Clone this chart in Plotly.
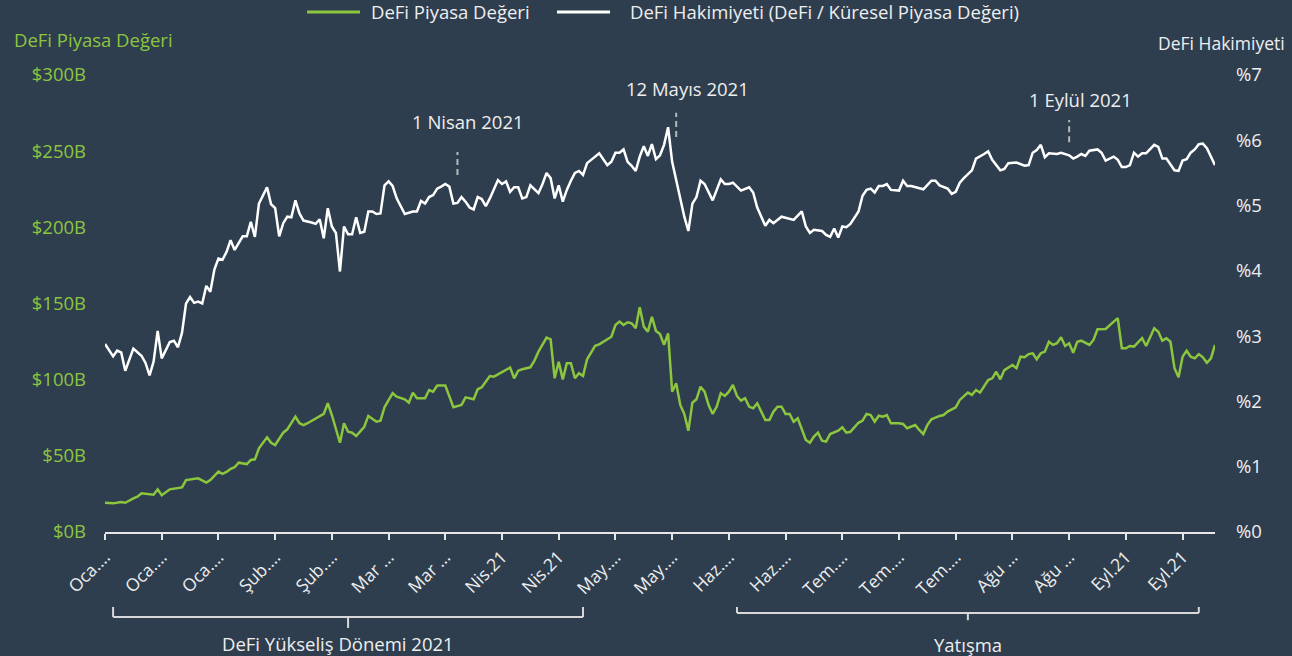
import pandas as pd
import plotly.graph_objects as go

# ---------------- data ----------------
start_date = "2021-01-01"

# DeFi market value ($B): day offsets from 2021-01-01 and values
tvl_days = [
    0, 2, 4, 5, 7, 8, 9, 12, 13, 14,
    16, 19, 20, 23, 25, 26, 28, 29, 30, 31,
    32, 33, 35, 36, 37, 38, 40, 41, 42, 44,
    45, 47, 48, 49, 50, 52, 54, 55, 56, 58,
    59, 60, 61, 62, 64, 65, 67, 68, 69, 71,
    72, 74, 75, 76, 77, 79, 80, 81, 82, 84,
    86, 88, 89, 91, 92, 93, 95, 96, 98, 100,
    101, 102, 103, 105, 106, 107, 109, 110, 111, 112,
    113, 114, 115, 116, 117, 118, 119, 121, 122, 124,
    125, 126, 127, 128, 129, 130, 131, 132, 133, 134,
    135, 136, 137, 138, 139, 140, 141, 142, 143, 144,
    145, 146, 147, 148, 149, 150, 151, 152, 153, 154,
    155, 156, 157, 158, 159, 160, 161, 162, 163, 164,
    165, 166, 167, 168, 169, 170, 171, 173, 174, 175,
    176, 177, 178, 179, 181, 182, 183, 184, 186, 187,
    188, 189, 190, 191, 192, 193, 194, 196, 197, 198,
    200, 201, 202, 203, 204, 206, 207, 208, 210, 211,
    213, 214, 215, 216, 217, 218, 219, 220, 221, 222,
    224, 225, 226, 227, 228, 229, 230, 231, 232, 233,
    234, 235, 236, 237, 238, 239, 240, 241, 243, 244,
    245, 247, 249, 250, 251, 252, 253, 254, 256, 257,
    259, 260, 261, 262, 263, 264, 265, 266, 267, 268,
    269, 270, 271, 272, 273, 274,
]
tvl_values = [
    19.2, 18.8, 19.7, 19.2, 22.1, 23.2, 25.4, 24.5, 28.0, 24.1,
    28.0, 29.3, 34.1, 35.2, 32.4, 34.1, 39.6, 38.1, 39.4, 41.4,
    42.5, 45.5, 44.6, 47.3, 47.7, 54.9, 62.2, 58.6, 57.1, 65.2,
    67.4, 75.7, 71.4, 70.2, 71.4, 74.6, 77.5, 84.5, 76.8, 58.6,
    71.4, 65.8, 65.2, 63.0, 69.1, 76.2, 72.4, 73.1, 81.9, 91.1,
    88.8, 87.1, 84.9, 91.5, 87.8, 87.8, 93.2, 92.1, 96.1, 96.1,
    81.9, 83.4, 88.4, 87.1, 93.7, 95.0, 102.4, 102.0, 105.2, 107.9,
    100.9, 105.9, 106.8, 108.1, 112.5, 118.4, 127.6, 126.5, 100.9, 111.8,
    100.2, 110.8, 110.8, 100.9, 104.2, 102.4, 113.4, 122.3, 123.2, 126.5,
    128.2, 135.9, 138.1, 135.9, 137.7, 137.0, 133.7, 147.5, 134.8, 131.5,
    141.3, 132.0, 130.0, 122.8, 130.4, 92.1, 97.6, 83.4, 77.5, 66.5,
    84.9, 87.1, 95.4, 92.1, 83.4, 77.5, 82.3, 91.1, 89.3, 92.1,
    96.5, 89.3, 86.2, 87.8, 82.3, 81.2, 84.5, 79.0, 73.5, 73.5,
    79.0, 82.3, 82.3, 77.5, 77.5, 72.4, 74.6, 60.4, 58.6, 62.6,
    65.2, 59.9, 59.3, 64.3, 66.5, 68.7, 65.2, 65.8, 71.7, 73.1,
    77.5, 76.8, 72.4, 76.3, 75.7, 76.8, 71.4, 71.4, 70.9, 68.1,
    70.2, 67.0, 64.3, 70.2, 74.0, 76.2, 76.8, 79.0, 81.9, 86.7,
    91.5, 90.0, 93.2, 91.5, 95.4, 99.8, 100.9, 105.2, 100.2, 106.3,
    109.6, 107.5, 115.1, 114.7, 116.8, 117.3, 113.4, 117.3, 118.4, 124.9,
    122.8, 123.9, 127.8, 122.1, 123.9, 117.7, 124.9, 125.6, 122.8, 126.1,
    133.1, 133.3, 138.1, 140.3, 120.6, 120.6, 122.1, 121.7, 127.2, 122.1,
    133.7, 131.5, 125.6, 127.2, 124.9, 107.5, 101.6, 115.1, 119.0, 115.1,
    114.0, 116.8, 114.7, 111.1, 114.0, 122.8,
]

# DeFi dominance (%): day offsets from 2021-01-01 and values
dom_days = [
    0, 2, 3, 4, 5, 7, 9, 10, 11, 12,
    13, 14, 16, 17, 18, 19, 20, 21, 22, 23,
    24, 25, 26, 27, 28, 29, 30, 31, 32, 33,
    34, 35, 36, 37, 38, 40, 41, 42, 43, 44,
    45, 46, 47, 48, 49, 51, 52, 53, 54, 55,
    56, 57, 58, 59, 60, 61, 62, 63, 64, 65,
    66, 67, 68, 69, 70, 71, 72, 74, 76, 77,
    78, 79, 80, 81, 82, 83, 84, 85, 86, 87,
    88, 89, 90, 91, 92, 93, 94, 95, 97, 98,
    99, 100, 101, 102, 103, 104, 105, 107, 108, 109,
    110, 111, 112, 113, 114, 115, 116, 117, 118, 119,
    120, 121, 122, 124, 125, 126, 127, 128, 129, 130,
    131, 132, 133, 134, 135, 136, 137, 138, 139, 140,
    141, 142, 143, 144, 145, 146, 147, 148, 149, 150,
    151, 152, 153, 154, 155, 157, 159, 160, 161, 163,
    164, 165, 167, 169, 170, 172, 173, 174, 175, 177,
    178, 179, 180, 181, 182, 183, 184, 186, 187, 188,
    189, 190, 191, 192, 193, 194, 196, 197, 198, 199,
    201, 202, 204, 205, 206, 208, 209, 210, 211, 212,
    214, 215, 217, 218, 219, 220, 221, 222, 223, 225,
    226, 227, 228, 229, 230, 231, 232, 233, 235, 236,
    238, 239, 240, 241, 242, 243, 245, 246, 247, 249,
    250, 251, 252, 253, 254, 255, 256, 257, 259, 260,
    261, 262, 264, 265, 266, 267, 268, 269, 270, 271,
    272, 273, 274,
]
dom_values = [
    2.88, 2.69, 2.78, 2.75, 2.47, 2.81, 2.70, 2.59, 2.40, 2.61,
    3.08, 2.66, 2.91, 2.93, 2.83, 3.05, 3.50, 3.60, 3.51, 3.53,
    3.50, 3.77, 3.68, 4.02, 4.19, 4.17, 4.29, 4.47, 4.32, 4.43,
    4.53, 4.53, 4.75, 4.52, 5.03, 5.28, 5.02, 4.96, 4.53, 4.73,
    4.83, 4.82, 5.08, 4.88, 4.77, 4.74, 4.72, 4.79, 4.50, 4.96,
    4.68, 4.58, 3.99, 4.68, 4.56, 4.56, 4.82, 4.58, 4.60, 4.91,
    4.91, 4.87, 4.88, 5.31, 5.37, 5.30, 5.11, 4.87, 4.91, 4.91,
    5.07, 5.03, 5.13, 5.16, 5.26, 5.29, 5.33, 5.29, 5.03, 5.04,
    5.13, 5.06, 4.97, 4.94, 5.13, 5.10, 4.99, 5.11, 5.39, 5.33,
    5.37, 5.21, 5.28, 5.28, 5.11, 5.13, 5.31, 5.19, 5.33, 5.50,
    5.42, 5.11, 5.31, 5.06, 5.24, 5.38, 5.50, 5.53, 5.47, 5.65,
    5.70, 5.75, 5.80, 5.62, 5.67, 5.81, 5.81, 5.86, 5.67, 5.61,
    5.53, 5.75, 5.91, 5.76, 5.94, 5.71, 5.77, 5.93, 6.20, 5.67,
    5.39, 5.06, 4.83, 4.61, 5.03, 5.13, 5.38, 5.33, 5.21, 5.08,
    5.24, 5.40, 5.33, 5.33, 5.35, 5.23, 5.28, 5.20, 4.97, 4.69,
    4.78, 4.73, 4.83, 4.80, 4.78, 4.91, 4.68, 4.58, 4.63, 4.61,
    4.55, 4.52, 4.65, 4.51, 4.68, 4.67, 4.72, 4.91, 5.15, 5.24,
    5.26, 5.20, 5.30, 5.30, 5.33, 5.24, 5.23, 5.38, 5.30, 5.30,
    5.26, 5.25, 5.38, 5.38, 5.31, 5.26, 5.18, 5.21, 5.35, 5.42,
    5.54, 5.72, 5.79, 5.83, 5.70, 5.62, 5.54, 5.56, 5.65, 5.66,
    5.64, 5.61, 5.62, 5.81, 5.85, 5.93, 5.74, 5.80, 5.79, 5.81,
    5.77, 5.72, 5.75, 5.79, 5.76, 5.84, 5.86, 5.81, 5.69, 5.75,
    5.70, 5.59, 5.59, 5.62, 5.81, 5.75, 5.80, 5.80, 5.93, 5.90,
    5.72, 5.72, 5.54, 5.53, 5.69, 5.71, 5.81, 5.86, 5.94, 5.95,
    5.88, 5.75, 5.62,
]

# series names
tvl_name = "DeFi Piyasa Değeri"
dom_name = "DeFi Hakimiyeti (DeFi / Küresel Piyasa Değeri)"

# x-axis ticks (every 14 days) and their (truncated) labels
tick_days = list(range(0, 267, 14))
tick_labels = ["Oca.…", "Oca.…", "Oca.…", "Şub.…", "Şub.…", "Mar …", "Mar …",
               "Nis.21", "Nis.21", "May.…", "May.…", "Haz.…", "Haz.…",
               "Tem.…", "Tem.…", "Tem.…", "Ağu …", "Ağu …", "Eyl.21", "Eyl.21"]
axis_end_day = 274

# y-axis ticks
tvl_ticks = [0, 50, 100, 150, 200, 250, 300]
dom_ticks = [0, 1, 2, 3, 4, 5, 6, 7]

# event markers: label, marker day, dash range (%), label level (%)
event_labels = ["1 Nisan 2021", "12 Mayıs 2021", "1 Eylül 2021"]
event_days = [87, 141, 238]
event_dash_lo = [5.47, 6.05, 5.97]
event_dash_hi = [5.82, 6.42, 6.31]
event_text_y = [6.29, 6.80, 6.63]

# period braces: label, start day, end day, centre day
period_labels = ["DeFi Yükseliş Dönemi 2021", "Yatışma"]
period_start = [2, 156]
period_end = [118, 270]
period_mid = [60, 213]

# ---------------- styling ----------------
BG = "#2e3e4e"
GREEN = "#8cc63f"
WHITE = "#ffffff"
TXT = "#eeeeee"
FONT = "Open Sans"
FS = 18.5

t0 = pd.Timestamp(start_date)
def to_date(d):
    return t0 + pd.Timedelta(days=d)

tvl_x = [to_date(d) for d in tvl_days]
dom_x = [to_date(d) for d in dom_days]

fig = go.Figure()
fig.add_trace(go.Scatter(
    x=tvl_x, y=tvl_values, mode="lines", name=tvl_name,
    line=dict(color=GREEN, width=2.5), yaxis="y", showlegend=False,
))
fig.add_trace(go.Scatter(
    x=dom_x, y=dom_values, mode="lines", name=dom_name,
    line=dict(color=WHITE, width=2.5), yaxis="y2", showlegend=False,
))

shapes = []
annotations = []

# custom legend (long line samples, as in the reference)
legend_items = [(tvl_name, GREEN, 0.182, 0.2297, 0.2378),
                (dom_name, WHITE, 0.4072, 0.4550, 0.4712)]
for name, col, lx0, lx1, tx in legend_items:
    shapes.append(dict(type="line", xref="paper", yref="paper",
                       x0=lx0, x1=lx1, y0=1.138, y1=1.138,
                       line=dict(color=col, width=3)))
    annotations.append(dict(x=tx, y=1.138, xref="paper", yref="paper",
                            text=name, showarrow=False, xanchor="left",
                            yanchor="middle",
                            font=dict(family=FONT, size=FS, color=TXT)))

for lab, d, lo, hi, ty in zip(event_labels, event_days, event_dash_lo,
                              event_dash_hi, event_text_y):
    shapes.append(dict(type="line", xref="x", yref="y2",
                       x0=to_date(d), x1=to_date(d), y0=lo, y1=hi,
                       line=dict(color="#b8b8b8", width=2, dash="6px,4px")))
    annotations.append(dict(x=to_date(d), y=ty, xref="x", yref="y2",
                            text=lab, showarrow=False, xshift=11,
                            yanchor="middle",
                            font=dict(family=FONT, size=FS, color=TXT)))

brace_col = "#d8d8d8"
brace_specs = [(-0.186, -0.164, -0.210, -0.243, -10),
               (-0.177, -0.164, -0.193, -0.247, 0)]
for lab, s, e, m, (yl, yt, yd, ytxt, xs) in zip(period_labels, period_start,
                                                period_end, period_mid, brace_specs):
    ln = dict(color=brace_col, width=2)
    shapes += [
        dict(type="line", xref="x", yref="paper", x0=to_date(s), x1=to_date(e),
             y0=yl, y1=yl, line=ln),
        dict(type="line", xref="x", yref="paper", x0=to_date(s), x1=to_date(s),
             y0=yl, y1=yt, line=ln),
        dict(type="line", xref="x", yref="paper", x0=to_date(e), x1=to_date(e),
             y0=yl, y1=yt, line=ln),
        dict(type="line", xref="x", yref="paper", x0=to_date(m), x1=to_date(m),
             y0=yl, y1=yd, line=ln),
    ]
    annotations.append(dict(x=to_date(m), y=ytxt, xref="x", yref="paper",
                            text=lab, showarrow=False, yanchor="middle",
                            xshift=xs,
                            font=dict(family=FONT, size=FS, color=TXT)))

annotations.append(dict(x=-0.0838, y=1.077, xref="paper", yref="paper",
                        text="DeFi Piyasa Değeri", showarrow=False,
                        xanchor="left", yanchor="middle",
                        font=dict(family=FONT, size=FS, color=GREEN)))
annotations.append(dict(x=1.065, y=1.070, xref="paper", yref="paper",
                        text="DeFi Hakimiyeti", showarrow=False,
                        xanchor="right", yanchor="middle",
                        font=dict(family=FONT, size=17.5, color=TXT)))

fig.update_layout(
    width=1292, height=656,
    paper_bgcolor=BG, plot_bgcolor=BG,
    margin=dict(l=105, r=77, t=75, b=124),
    font=dict(family=FONT, size=FS, color=TXT),
    showlegend=False,
    xaxis=dict(
        type="date",
        range=[to_date(0), to_date(axis_end_day)],
        tickmode="array",
        tickvals=[to_date(d) for d in tick_days],
        ticktext=tick_labels,
        tickangle=-45,
        showgrid=False, zeroline=False,
        showline=True, linecolor="#e6e6e6", linewidth=2,
        ticks="outside", ticklen=6, tickcolor="#e6e6e6", tickwidth=2,
        tickfont=dict(family=FONT, size=17.5, color=TXT),
        automargin=False,
    ),
    yaxis=dict(
        range=[0, 300], tickmode="array",
        tickvals=tvl_ticks,
        ticktext=["$" + str(v) + "B" for v in tvl_ticks],
        showgrid=False, zeroline=False, showline=False,
        tickfont=dict(family=FONT, size=FS, color=GREEN),
        ticklabelstandoff=18, automargin=False,
    ),
    yaxis2=dict(
        range=[0, 7], overlaying="y", side="right",
        tickmode="array", tickvals=dom_ticks,
        ticktext=["%" + str(v) for v in dom_ticks],
        showgrid=False, zeroline=False, showline=False,
        tickfont=dict(family=FONT, size=FS, color=TXT),
        ticklabelstandoff=20, automargin=False,
    ),
    shapes=shapes,
    annotations=annotations,
)

fig.write_html("out.html",
               config={"displayModeBar": False},
               post_script="document.body.style.margin='0';"
                           "document.body.style.background='" + BG + "';")
